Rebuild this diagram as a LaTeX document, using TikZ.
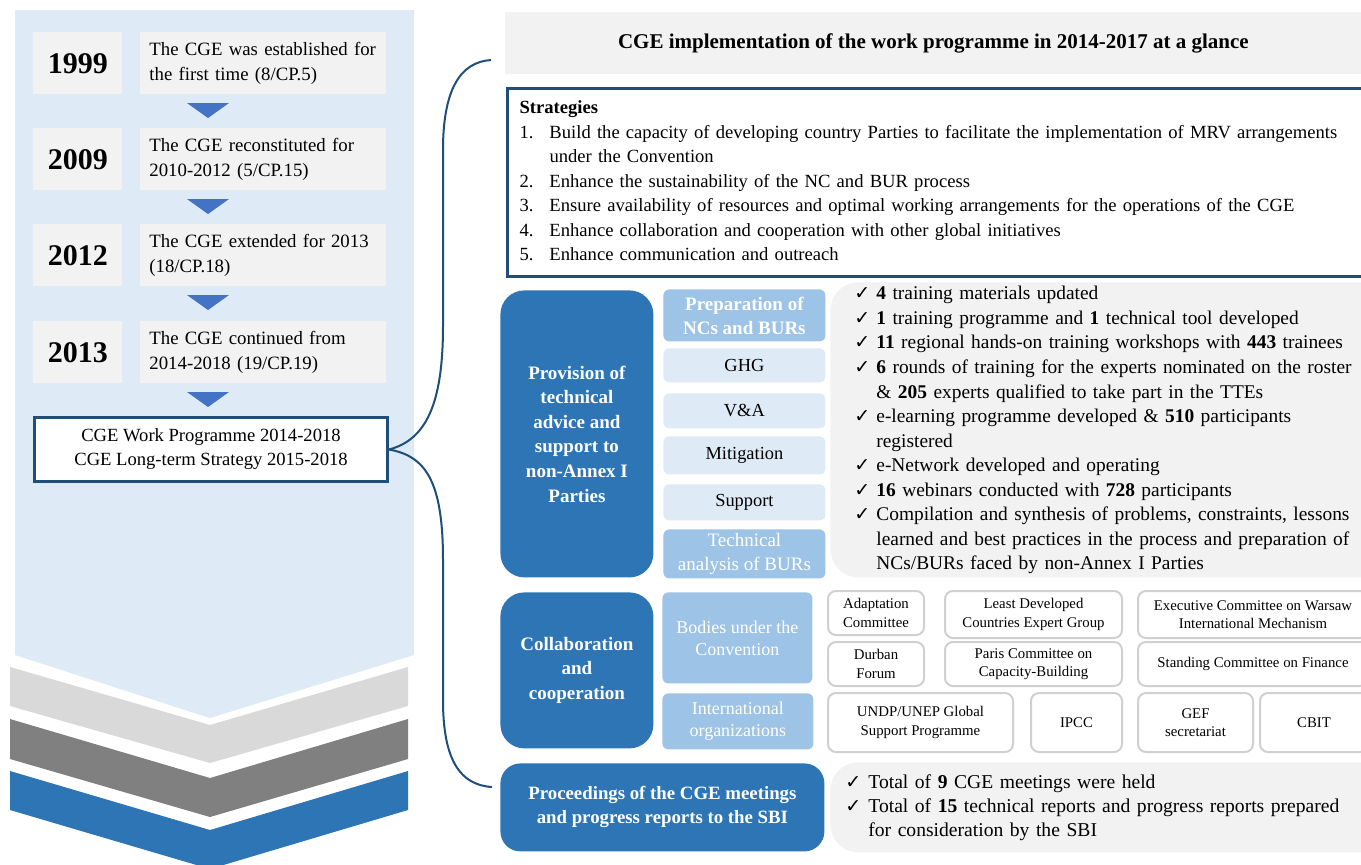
\documentclass[tikz,border=0pt]{standalone}
\usepackage{fontspec}
\setmainfont{Liberation Serif}
\newfontfamily\checkfont{DejaVu Sans}
\usetikzlibrary{positioning}

\definecolor{panelblue}{HTML}{DEEAF6}
\definecolor{boxgray}{HTML}{F2F2F2}
\definecolor{navy}{HTML}{1F4E79}
\definecolor{darkblue}{HTML}{2E75B6}
\definecolor{midblue}{HTML}{9DC3E6}
\definecolor{paleblue}{HTML}{DEEBF7}
\definecolor{triblue}{HTML}{4472C4}
\definecolor{chevlight}{HTML}{D9D9D9}
\definecolor{chevgray}{HTML}{808080}
\definecolor{edgegray}{HTML}{D0D0D0}

\newcommand{\ck}{{\checkfont\fontsize{9.5}{9.5}\selectfont ✓}}

\tikzset{
	yearbox/.style={fill=boxgray, anchor=north west, inner sep=0pt, minimum width=44.5pt, minimum height=31pt, font=\fontsize{15}{18}\selectfont\bfseries},
	eventbox/.style={fill=boxgray, anchor=north west, inner xsep=4.5pt, inner ysep=0pt, text width=114pt, minimum height=31pt, align=left, font=\fontsize{9.4}{12.5}\selectfont},
	leadbox/.style={fill=darkblue, text=white, anchor=north west, inner sep=0pt, rounded corners=12pt, align=center, font=\fontsize{9.5}{12.3}\selectfont\bfseries},
	topicbox/.style={fill=midblue, text=white, anchor=north west, inner sep=0pt, rounded corners=3pt, align=center},
	subbox/.style={fill=paleblue, anchor=north west, inner sep=0pt, rounded corners=3pt, minimum width=81pt, font=\fontsize{9.2}{11}\selectfont},
	partner/.style={draw=edgegray, line width=1pt, fill=white, anchor=north west, inner sep=0pt, rounded corners=4pt, align=center, font=\fontsize{7.4}{9.2}\selectfont},
	resultbox/.style={fill=boxgray, anchor=north west, inner ysep=0pt, rounded corners=14pt, align=left, font=\fontsize{9.7}{12.27}\selectfont}
}

\begin{document}
\begin{tikzpicture}[x=0.5pt, y=-0.5pt]

	\fill[white] (0,0) rectangle (1361,864);
	\useasboundingbox (0,0) rectangle (1361,864);

	\fill[panelblue] (15,10) -- (414,10) -- (414,655) -- (210,718) -- (15,655) -- cycle;
	\fill[chevlight] (10,667) -- (210,725) -- (408,667) -- (408,706) -- (210,763) -- (10,706) -- cycle;
	\fill[chevgray] (10,719) -- (210,778) -- (408,719) -- (408,759) -- (210,817) -- (10,759) -- cycle;
	\fill[darkblue] (10,771) -- (210,830) -- (408,771) -- (408,810) -- (210,869) -- (10,810) -- cycle;

	\node (y1999)[yearbox] at (33,32) {1999};
	\node (e1999)[eventbox] at (140,32) {The CGE was established for\\the first time (8/CP.5)};
	\node (y2009)[yearbox] at (33,128) {2009};
	\node (e2009)[eventbox] at (140,128) {The CGE reconstituted for\\2010-2012 (5/CP.15)};
	\node (y2012)[yearbox] at (33,224) {2012};
	\node (e2012)[eventbox] at (140,224) {The CGE extended for 2013\\(18/CP.18)};
	\node (y2013)[yearbox] at (33,321) {2013};
	\node (e2013)[eventbox] at (140,321) {The CGE continued from\\2014-2018 (19/CP.19)};

	\fill[triblue] (187,103) -- (229,103) -- (208,118) -- cycle;
	\fill[triblue] (187,199) -- (229,199) -- (208,214) -- cycle;
	\fill[triblue] (187,295) -- (229,295) -- (208,310) -- cycle;
	\fill[triblue] (187,392) -- (229,392) -- (208,407) -- cycle;

	\node (wp)[draw=navy, line width=1.5pt, fill=white, anchor=north west, minimum width=176.5pt, minimum height=32pt, align=center, font=\fontsize{9.3}{12}\selectfont] at (33,416) {
		CGE Work Programme 2014-2018\\CGE Long-term Strategy 2015-2018};

	\coordinate (bracetop) at (491,60);
	\coordinate (bracebot) at (492,787);
	\draw[navy, line width=1pt] (wp.east) .. controls (425,440) and (443,406) .. (443,326) -- (443,150) .. controls (443,90) and (460,62) .. (bracetop);
	\draw[navy, line width=1pt] (wp.east) .. controls (425,456) and (443,480) .. (443,560) -- (443,700) .. controls (443,760) and (460,785) .. (bracebot);

	\node (head)[fill=boxgray, anchor=north west, minimum width=428pt, minimum height=31pt, font=\fontsize{10.5}{12}\selectfont\bfseries] at (505,12) {
		CGE implementation of the work programme in 2014-2017 at a glance};

	\node (strat)[draw=navy, line width=1.5pt, anchor=north west, minimum width=429.5pt, minimum height=94pt, inner xsep=6pt, inner ysep=0pt, text width=417.5pt, align=left, font=\fontsize{9.3}{12.25}\selectfont] at (506,87) {
		\begin{tabular}{@{}p{15pt}@{}l@{}}
			\multicolumn{2}{@{}l@{}}{\bfseries Strategies}\\
			1. & Build the capacity of developing country Parties to facilitate the implementation of MRV arrangements\\
			 & under the Convention\\
			2. & Enhance the sustainability of the NC and BUR process\\
			3. & Ensure availability of resources and optimal working arrangements for the operations of the CGE\\
			4. & Enhance collaboration and cooperation with other global initiatives\\
			5. & Enhance communication and outreach
		\end{tabular}
	};

	\node (prov)[leadbox, minimum width=76.5pt, minimum height=143.5pt] at (500,290) {
		Provision of\\technical\\advice and\\support to\\non-Annex I\\Parties};
	\node (prep)[topicbox, minimum width=81pt, minimum height=26pt, font=\fontsize{9.5}{12}\selectfont\bfseries] at (663,289) {Preparation of\\NCs and BURs};
	\node (ghg)[subbox, minimum height=17pt] at (663,348) {GHG};
	\node (va)[subbox, minimum height=17.5pt] at (663,393) {V\&A};
	\node (mitig)[subbox, minimum height=19pt] at (663,436) {Mitigation};
	\node (supp)[subbox, minimum height=18pt] at (663,484) {Support};
	\node (tech)[topicbox, minimum width=81pt, minimum height=24.5pt, font=\fontsize{9.5}{12}\selectfont] at (663,529) {Technical\\analysis of BURs};

	\node (provres)[resultbox, minimum width=282.5pt, minimum height=147.5pt, inner xsep=12pt, text width=258.5pt] at (830,282) {
		\begin{tabular}{@{}p{11pt}@{}l@{}}
			\ck & \textbf{4} training materials updated\\
			\ck & \textbf{1} training programme and \textbf{1} technical tool developed\\
			\ck & \textbf{11} regional hands-on training workshops with \textbf{443} trainees\\
			\ck & \textbf{6} rounds of training for the experts nominated on the roster\\
			 & \& \textbf{205} experts qualified to take part in the TTEs\\
			\ck & e-learning programme developed \& \textbf{510} participants\\
			 & registered\\
			\ck & e-Network developed and operating\\
			\ck & \textbf{16} webinars conducted with \textbf{728} participants\\
			\ck & Compilation and synthesis of problems, constraints, lessons\\
			 & learned and best practices in the process and preparation of\\
			 & NCs/BURs faced by non-Annex I Parties
		\end{tabular}
	};

	\node (collab)[leadbox, minimum width=76.5pt, minimum height=78pt] at (500,592) {
		Collaboration\\and\\cooperation};
	\node (bodies)[topicbox, minimum width=75pt, minimum height=45.5pt, font=\fontsize{9}{11}\selectfont] at (662,592) {Bodies under the\\Convention};
	\node (intl)[topicbox, minimum width=75.5pt, minimum height=28pt, font=\fontsize{9}{11}\selectfont] at (662,693) {International\\organizations};

	\node (adapt)[partner, minimum width=48pt, minimum height=22pt] at (827,590) {Adaptation\\Committee};
	\node (ldc)[partner, minimum width=88.5pt, minimum height=23.5pt] at (944,590) {Least Developed\\Countries Expert Group};
	\node (wim)[partner, minimum width=115pt, minimum height=23.5pt] at (1137,590) {Executive Committee on Warsaw\\International Mechanism};
	\node (durban)[partner, minimum width=48pt, minimum height=22pt] at (827,641) {Durban\\Forum};
	\node (pccb)[partner, minimum width=88.5pt, minimum height=22pt] at (944,641) {Paris Committee on\\Capacity-Building};
	\node (scf)[partner, minimum width=115pt, minimum height=22pt] at (1137,641) {Standing Committee on Finance};
	\node (gsp)[partner, minimum width=92.5pt, minimum height=29.5pt] at (827,692) {UNDP/UNEP Global\\Support Programme};
	\node (ipcc)[partner, minimum width=45.5pt, minimum height=29.5pt] at (1030,692) {IPCC};
	\node (gef)[partner, minimum width=57.5pt, minimum height=29.5pt] at (1137,692) {GEF\\secretariat};
	\node (cbit)[partner, minimum width=54pt, minimum height=29.5pt] at (1259,692) {CBIT};

	\node (proc)[leadbox, rounded corners=10pt, minimum width=162pt, minimum height=44pt, font=\fontsize{9.4}{12}\selectfont\bfseries] at (500,763) {
		Proceedings of the CGE meetings\\and progress reports to the SBI};
	\node (procres)[resultbox, minimum width=282.5pt, minimum height=45pt, inner xsep=7.5pt, text width=267.5pt, font=\fontsize{9.8}{12}\selectfont] at (830,762) {
		\begin{tabular}{@{}p{11.5pt}@{}l@{}}
			\ck & Total of \textbf{9} CGE meetings were held\\
			\ck & Total of \textbf{15} technical reports and progress reports prepared\\
			 & for consideration by the SBI
		\end{tabular}
	};
\end{tikzpicture}
\end{document}
